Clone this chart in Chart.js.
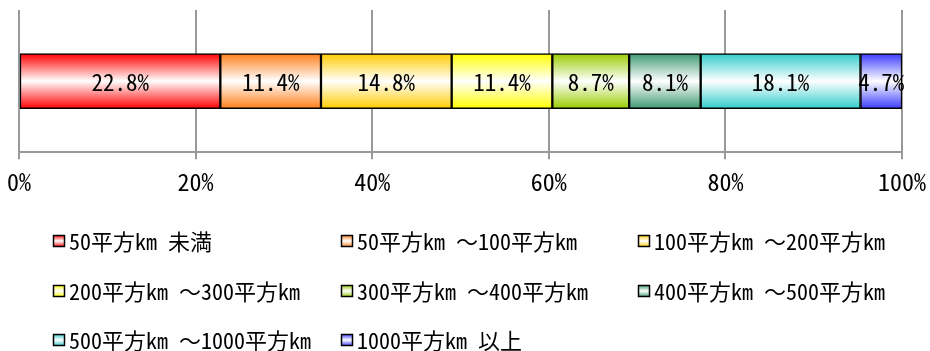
<!DOCTYPE html>
<html lang="ja">
<head>
<meta charset="utf-8">
<title>面積別の構成比</title>
<script src="https://cdn.jsdelivr.net/npm/chart.js@4/dist/chart.umd.min.js"></script>
<style>
    html, body { margin: 0; padding: 0; background: #fff; }
    #areaChart { display: block; }
</style>
</head>
<body>
<canvas id="areaChart" width="930" height="351"></canvas>
<script>
const categories = ['面積'];
const seriesLabels = [
    '50平方km 未満',
    '50平方km ～100平方km',
    '100平方km ～200平方km',
    '200平方km ～300平方km',
    '300平方km ～400平方km',
    '400平方km ～500平方km',
    '500平方km ～1000平方km',
    '1000平方km 以上'
];
const shares = [22.8, 11.4, 14.8, 11.4, 8.7, 8.1, 18.1, 4.7];
const tickValues = [0, 20, 40, 60, 80, 100];
const baseColors = ['#ff0000', '#ff7f1a', '#ffcc00', '#ffff00', '#99cc00', '#3f9a72', '#33cccc', '#3c3cff'];

const BAR_THICKNESS = 55;
const MONO = '"Noto Sans Mono CJK JP", "Noto Sans CJK JP", monospace';
const LABEL_FONT = '23px ' + MONO;
const LEGEND_FONT = '22px ' + MONO;

// colour -> white -> colour, top to bottom
function makeGradient(ctx, color, top, bottom) {
    const g = ctx.createLinearGradient(0, top, 0, bottom);
    g.addColorStop(0, color);
    g.addColorStop(0.5, '#ffffff');
    g.addColorStop(1, color);
    return g;
}

// small swatch used for the legend boxes
function makeSwatch(color) {
    const c = document.createElement('canvas');
    c.width = 14;
    c.height = 14;
    const cx = c.getContext('2d');
    cx.fillStyle = makeGradient(cx, color, 1, 13);
    cx.fillRect(1, 1, 12, 12);
    cx.strokeStyle = '#000';
    cx.lineWidth = 1.5;
    cx.strokeRect(1.5, 1.5, 11, 11);
    return c;
}

const swatches = baseColors.map(makeSwatch);

const datasets = seriesLabels.map((label, i) => ({
    label: label,
    data: [shares[i]],
    borderColor: '#000',
    borderWidth: 1.5,
    borderSkipped: false,
    barThickness: BAR_THICKNESS,
    backgroundColor: (c) => {
        const y = c.chart.scales.y;
        const mid = y ? y.getPixelForValue(c.dataIndex || 0) : NaN;
        if (!Number.isFinite(mid)) return baseColors[i];
        return makeGradient(c.chart.ctx, baseColors[i], mid - BAR_THICKNESS / 2, mid + BAR_THICKNESS / 2);
    }
}));

// value labels in the middle of each segment
const valueLabels = {
    id: 'valueLabels',
    afterDatasetsDraw(chart) {
        const ctx = chart.ctx;
        ctx.save();
        ctx.font = LABEL_FONT;
        ctx.fillStyle = '#000';
        ctx.textAlign = 'center';
        ctx.textBaseline = 'middle';
        chart.data.datasets.forEach((ds, i) => {
            chart.getDatasetMeta(i).data.forEach((bar, j) => {
                const p = bar.getProps(['x', 'y', 'base'], true);
                ctx.fillText(ds.data[j].toFixed(1) + '%', (p.x + p.base) / 2, p.y + 1);
            });
        });
        ctx.restore();
    }
};

// three-column legend under the axis
const gridLegend = {
    id: 'gridLegend',
    afterDraw(chart) {
        const ctx = chart.ctx;
        const cols = [52, 340, 637];
        const rows = [241, 291, 340];
        ctx.save();
        ctx.font = LEGEND_FONT;
        ctx.fillStyle = '#000';
        ctx.textBaseline = 'middle';
        chart.data.datasets.forEach((ds, i) => {
            const x = cols[i % 3];
            const y = rows[Math.floor(i / 3)];
            ctx.drawImage(swatches[i], x, y - 7);
            ctx.fillText(ds.label, x + 17, y + 1);
        });
        ctx.restore();
    }
};

new Chart(document.getElementById('areaChart'), {
    type: 'bar',
    data: { labels: categories, datasets: datasets },
    options: {
        indexAxis: 'y',
        responsive: false,
        animation: false,
        layout: { padding: { left: 19, right: 28, top: 10, bottom: 147 } },
        plugins: {
            legend: { display: false },
            tooltip: { enabled: false }
        },
        scales: {
            x: {
                stacked: true,
                min: 0,
                max: 100,
                afterBuildTicks: (scale) => {
                    scale.ticks = tickValues.map(v => ({ value: v }));
                },
                // the end labels may hang past the plot edges
                afterFit: (scale) => {
                    scale.paddingLeft = 0;
                    scale.paddingRight = 0;
                },
                ticks: {
                    callback: (v) => v + '%',
                    color: '#000',
                    padding: 8,
                    maxRotation: 0,
                    font: { family: MONO, size: 24 }
                },
                grid: { color: '#999', lineWidth: 2, tickLength: 7 },
                border: { color: '#999', width: 2 }
            },
            y: {
                stacked: true,
                display: false
            }
        }
    },
    plugins: [valueLabels, gridLegend]
});
</script>
</body>
</html>
